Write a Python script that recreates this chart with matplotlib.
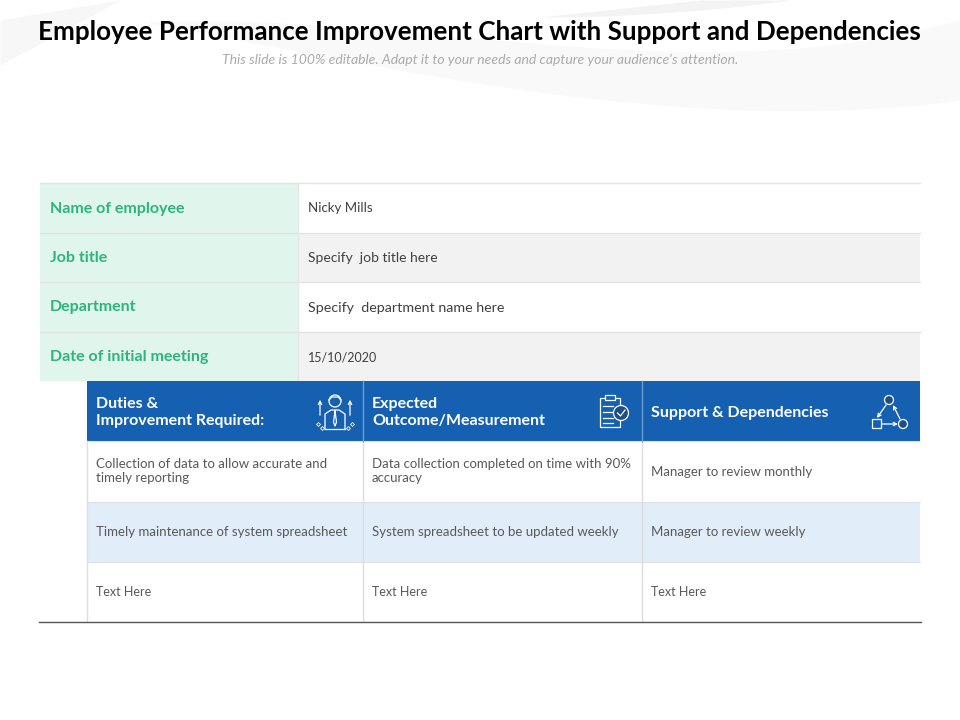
import matplotlib
matplotlib.use('Agg')
import matplotlib.pyplot as plt
from matplotlib.patches import Rectangle, Circle, FancyArrowPatch
import numpy as np

title = 'Employee Performance Improvement Chart with Support and Dependencies'
subtitle = "This slide is 100% editable. Adapt it to your needs and capture your audience's attention."

info_labels = ['Name of employee', 'Job title', 'Department', 'Date of initial meeting']
info_values = ['Nicky Mills', 'Specify  job title here', 'Specify  department name here', '15/10/2020']

headers = ['Duties &\nImprovement Required:', 'Expected\nOutcome/Measurement', 'Support & Dependencies']
col1 = ['Collection of data to allow accurate and\ntimely reporting', 'Timely maintenance of system spreadsheet', 'Text Here']
col2 = ['Data collection completed on time with 90%\naccuracy', 'System spreadsheet to be updated weekly', 'Text Here']
col3 = ['Manager to review monthly', 'Manager to review weekly', 'Text Here']

plt.rcParams['font.family'] = ['Lato', 'DejaVu Sans']

fig = plt.figure(figsize=(9.6, 7.2), dpi=100)
ax = fig.add_axes([0, 0, 1, 1])
ax.set_xlim(0, 960)
ax.set_ylim(720, 0)
ax.axis('off')

# светлые волны на фоне
xs = np.linspace(150, 960, 200)
upper = np.polyval(np.polyfit([150, 330, 540, 750, 960], [22, 25, 45, 50, 20], 3), xs)
lower = np.polyval(np.polyfit([150, 250, 430, 673, 960], [22, 45, 73, 107, 100], 3), xs)
ax.fill_between(xs, upper, np.maximum(lower, upper), color='#f9f9f9', zorder=0, lw=0)
xs2 = np.linspace(540, 790, 60)
ax.fill_between(xs2, np.maximum(17 * (1 - (xs2 - 540) / 160), 0), 17 * (1 - ((xs2 - 540) / 250) ** 2), color='#f3f3f3', zorder=0, lw=0)
xs3 = np.linspace(0, 120, 40)
ax.fill_between(xs3, 65 * (1 - xs3 / 120), 20 * (1 - xs3 / 120), color='#f7f7f7', zorder=0, lw=0)

ax.text(479.5, 32, title, ha='center', va='center', fontsize=18.7, fontweight='bold', color='black')
ax.text(480, 60, subtitle, ha='center', va='center', fontsize=10.1, style='italic', color='#ababab')

# верхняя таблица
row_y = [183, 233, 282, 332, 381]
value_sizes = [9.5, 10, 10.3, 9]
for i in range(4):
    top, bottom = row_y[i], row_y[i + 1]
    ax.add_patch(Rectangle((40, top), 258, bottom - top, fc='#e0f5ec', ec='none', zorder=1))
    ax.add_patch(Rectangle((298, top), 622, bottom - top, fc='white' if i % 2 == 0 else '#f2f2f2', ec='none', zorder=1))
    mid = (top + bottom) / 2
    ax.text(50, mid + 0.5, info_labels[i], ha='left', va='center', fontsize=11.5, fontweight='bold', color='#2fb380', zorder=3)
    ax.text(308, mid + 0.5, info_values[i], ha='left', va='center', fontsize=value_sizes[i], color='#404040', zorder=3)
    ax.plot([40, 920], [top, top], color='#e3e3e3', lw=1, zorder=2)
ax.plot([298, 298], [183, 381], color='#e6e6e6', lw=1, zorder=2)

# нижняя таблица
col_x = [87, 363, 642, 920]
ax.add_patch(Rectangle((87, 381), 833, 60, fc='#1560b0', ec='none', zorder=2))
ax.add_patch(Rectangle((87, 502), 833, 60, fc='#e1edf9', ec='none', zorder=1))
header_x = [96, 372, 651]
for x, h in zip(header_x, headers):
    ax.text(x, 412.5, h, ha='left', va='center', fontsize=11.5, fontweight='bold', color='white', zorder=4, linespacing=1.35)

rows_y = [471.5, 532, 591.5]
for x, col in zip(header_x, [col1, col2, col3]):
    for y, t in zip(rows_y, col):
        ax.text(x, y, t, ha='left', va='center', fontsize=9 if t == 'Text Here' else 9.55, color='#595959', zorder=4, linespacing=1.2)

for y in [441, 502, 562]:
    ax.plot([87, 920], [y, y], color='#e0e0e0', lw=0.8, zorder=2)
ax.plot([39, 921], [621.5, 621.5], color='#555555', lw=1, zorder=3)
for x in col_x[:3]:
    ax.plot([x, x], [441, 621], color='#dedede', lw=1, zorder=2)
for x in col_x[1:3]:
    ax.plot([x, x], [381, 441], color='#6b9cd3', lw=1, zorder=3)

# значки в шапке
w = dict(color='white', lw=0.9, zorder=5)
arrow = dict(arrowstyle='->', mutation_scale=6, color='white', lw=0.9, zorder=5)
# человек со стрелками
ax.add_patch(Circle((335, 401), 6, fc='none', ec='white', lw=0.9, zorder=5))
ax.plot([329, 332, 338, 341], [400, 397, 397, 400], **w)
ax.plot([325, 325, 331, 339, 345, 345], [429, 414, 410, 410, 414, 429], **w)
ax.plot([325, 345], [429, 429], **w)
ax.plot([335, 333.5, 335, 336.5, 335], [411, 422, 426, 422, 411], **w)
for x in [320, 350]:
    ax.add_patch(FancyArrowPatch((x, 418), (x, 397), **arrow))
for x, y in [(318, 424), (322, 428), (348, 428), (352, 424)]:
    ax.plot(x, y, 'D', ms=2, mfc='none', mec='white', mew=0.6, zorder=5)
# планшет с галочкой
ax.add_patch(Rectangle((600, 398), 20, 29, fc='none', ec='white', lw=0.9, zorder=5))
ax.add_patch(Rectangle((605, 395), 10, 5, fc='#1560b0', ec='white', lw=0.9, zorder=5))
for y in [406, 412, 418, 423]:
    ax.plot([603, 613], [y, y], **w)
ax.add_patch(Circle((621, 413), 7.5, fc='#1f4e83', ec='white', lw=0.9, zorder=6))
ax.plot([617.5, 620.5, 625], [413, 416, 410], color='white', lw=0.9, zorder=7)
# схема зависимостей
ax.add_patch(Circle((889, 400), 4.5, fc='#1f4e83', ec='white', lw=0.9, zorder=5))
ax.add_patch(Rectangle((872, 419), 9, 9, fc='none', ec='white', lw=0.9, zorder=5))
ax.add_patch(Circle((903, 424), 4.5, fc='#1f4e83', ec='white', lw=0.9, zorder=5))
for a, b in [((886, 405), (877, 418)), ((900, 419), (893, 405)), ((882, 424), (898, 424))]:
    ax.add_patch(FancyArrowPatch(a, b, shrinkA=0, shrinkB=0, **arrow))

fig.savefig('out.png', dpi=100)
